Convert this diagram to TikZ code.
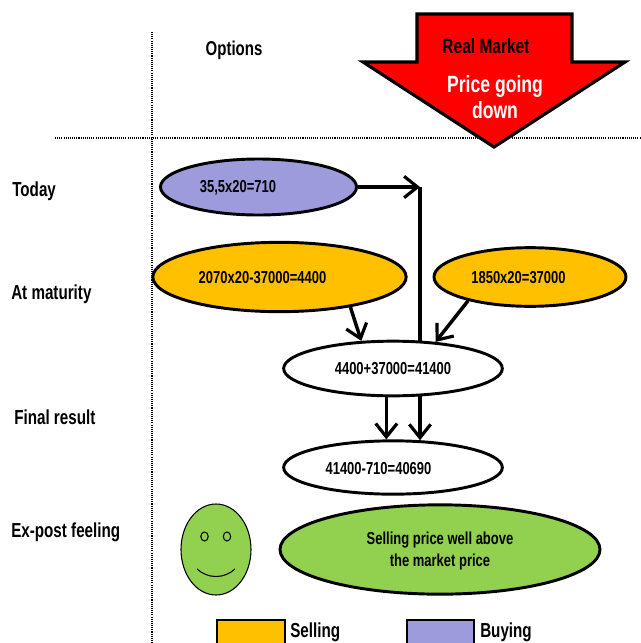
\documentclass[tikz,border=0pt]{standalone}
\usepackage{fontspec}
\setmainfont[FakeStretch=0.75]{Liberation Sans}
\usetikzlibrary{shapes.geometric, arrows.meta}
\definecolor{sellcol}{HTML}{FFC000}
\definecolor{buycol}{HTML}{9D9BDC}
\definecolor{feelcol}{HTML}{92D050}
\tikzset{
    oval/.style={draw, ellipse, line width=2.2pt, inner sep=0pt},
    calc/.style={font=\bfseries\fontsize{13}{16}\selectfont},
    rowlabel/.style={font=\bfseries\fontsize{15.2}{18}\selectfont, anchor=west, inner sep=0pt},
    flow/.style={line width=2.6pt, -{Straight Barb[length=10pt, width=16pt, line width=2.4pt]}},
    rule/.style={line width=0.8pt, dash pattern=on 0.8pt off 0.8pt},
    legendbox/.style={draw, line width=2.2pt}
}
\begin{document}
\begin{tikzpicture}[x=0.75pt, y=-0.75pt]
        \clip (0,0) rectangle (641,643);
        \fill[white] (0,0) rectangle (641,643);

        % dotted rules
        \draw[rule] (152,32)--(152,643);
        \draw[rule] (55,138)--(641,138);

        % market arrow
        \filldraw[fill=red, line width=2.4pt, miter limit=20] (417,14)--(572,14)--(572,62)--(625,62)--(494,147)--(363,62)--(417,62)--cycle;
        \node[font=\bfseries\fontsize{15.5}{19}\selectfont] (market) at (486,46) {Real Market};
        \node[font=\bfseries\fontsize{17.6}{19.5}\selectfont, text=white, align=center] (price) at (495,97) {Price going\\down};

        % headings
        \node[font=\bfseries\fontsize{15}{18}\selectfont] (options) at (234,50) {Options};
        \node[rowlabel] (today) at (12,191) {Today};
        \node[rowlabel] (maturity) at (11,294) {At maturity};
        \node[rowlabel] (final) at (14,417) {Final result};
        \node[rowlabel] (feeling) at (11,532) {Ex-post feeling};

        % ovals
        \node[oval, fill=buycol, minimum width=147pt, minimum height=42pt] (buy) at (258.5,187) {};
        \node[oval, fill=sellcol, minimum width=190pt, minimum height=52pt] (sellA) at (279.5,277) {};
        \node[oval, fill=sellcol, minimum width=144pt, minimum height=44pt] (sellB) at (530,277) {};
        \node[oval, fill=white, minimum width=164pt, minimum height=41pt, calc] (sum) at (393,368.5) {4400+37000=41400};
        \node[oval, fill=white, minimum width=164pt, minimum height=40pt] (result) at (393,467.5) {};
        \node[oval, fill=feelcol, minimum width=240pt, minimum height=67pt] (verdict) at (440,549.5) {};

        \node[calc] (buytext) at (238,188) {35,5x20=710};
        \node[calc] (sellAtext) at (262.5,278) {2070x20-37000=4400};
        \node[calc] (sellBtext) at (518.5,278) {1850x20=37000};
        \node[calc] (resulttext) at (378.5,469) {41400-710=40690};
        \node[calc, align=center] (feeltext) at (440,551) {Selling price well above\\[0.5pt]the market price};

        % connectors
        \coordinate (corner) at (420,187);
        \draw[flow] (buy.east)--(corner);
        \draw[line width=2.6pt] (corner)--(corner |- sum.45);
        \draw[flow] (sellA.-23)--(sum.139);
        \draw[flow] (sellB.201)--(sum.32);
        \draw[flow] (sum.-103)--(sum.-103 |- result.103);
        \draw[flow] (corner |- sum.-45)--(corner |- result.45);

        % face
        \draw[fill=feelcol, line width=0.8pt] (216,549.5) ellipse [x radius=35, y radius=45.5];
        \draw[line width=0.8pt] (204.5,536.5) ellipse [x radius=3.7, y radius=4.5];
        \draw[line width=0.8pt] (227,536.5) ellipse [x radius=3.7, y radius=4.5];
        \draw[line width=0.8pt] (197,569) .. controls (208,579) and (224,579) .. (235,569);

        % legend
        \draw[legendbox, fill=sellcol] (217,620) rectangle (285,655);
        \draw[legendbox, fill=buycol] (407,620) rectangle (474,655);
        \node[rowlabel] (selling) at (290,632) {Selling};
        \node[rowlabel] (buying) at (480,632) {Buying};
    \end{tikzpicture}
\end{document}
